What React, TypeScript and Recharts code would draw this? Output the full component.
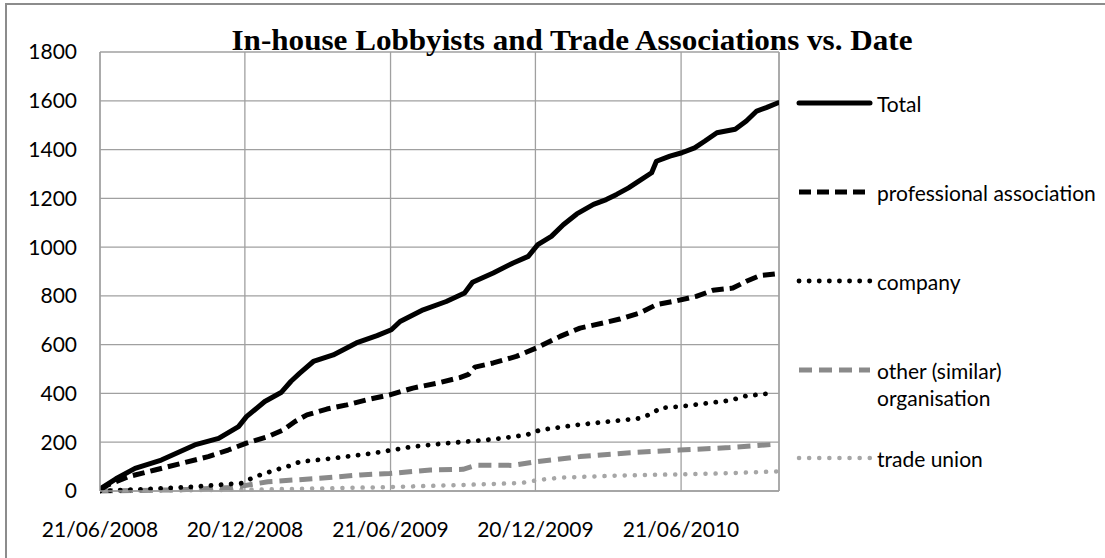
import React from 'react';
import { LineChart, Line, XAxis, YAxis, CartesianGrid, ReferenceLine, Legend } from 'recharts';

// x = days since 21/06/2008
const xTicks = [0, 182, 365, 547, 730];
const xTickLabels = ['21/06/2008', '20/12/2008', '21/06/2009', '20/12/2009', '21/06/2010'];
const yTicks = [0, 200, 400, 600, 800, 1000, 1200, 1400, 1600, 1800];
const lastDay = 853;

const totalPts = [
  [0, 8], [20, 50], [44, 93], [77, 127], [119, 189], [149, 216], [174, 264], [184, 305], [207, 367],
  [228, 405], [240, 450], [251, 483], [268, 531], [293, 558], [322, 607], [348, 637], [366, 661],
  [377, 695], [406, 743], [435, 777], [458, 812], [468, 856], [494, 894], [519, 935], [538, 962],
  [550, 1010], [567, 1044], [582, 1092], [599, 1136], [620, 1175], [636, 1195], [649, 1216],
  [664, 1243], [674, 1264], [693, 1305], [699, 1352], [716, 1373], [731, 1387], [747, 1407],
  [760, 1435], [775, 1469], [798, 1483], [812, 1517], [825, 1558], [837, 1572], [852, 1592],
];
const profPts = [
  [0, 5], [10, 25], [36, 59], [69, 86], [103, 114], [136, 141], [161, 168], [184, 196], [211, 223],
  [230, 250], [245, 285], [260, 312], [285, 336], [310, 353], [335, 374], [364, 394], [393, 422],
  [423, 442], [452, 465], [463, 478], [471, 508], [494, 525], [523, 552], [548, 586], [578, 634],
  [603, 668], [632, 689], [653, 705], [678, 730], [699, 764], [720, 777], [749, 798], [770, 823],
  [795, 832], [812, 860], [829, 883], [848, 890],
];
const companyPts = [
  [0, 0], [60, 8], [120, 18], [178, 32], [195, 59], [220, 86], [240, 105], [251, 120], [293, 134],
  [343, 155], [393, 182], [435, 196], [477, 207], [494, 212], [536, 230], [553, 250], [599, 271],
  [661, 292], [678, 298], [695, 319], [703, 340], [728, 346], [791, 371], [812, 390], [848, 402],
];
const otherPts = [
  [0, 0], [100, 5], [170, 15], [178, 20], [211, 38], [243, 45], [276, 52], [327, 66], [364, 72],
  [415, 86], [456, 89], [473, 106], [519, 105], [548, 120], [603, 141], [666, 157], [728, 168],
  [791, 178], [850, 192],
];
const unionPts = [
  [0, 0], [100, 3], [200, 6], [300, 12], [360, 16], [450, 24], [530, 33], [550, 45], [580, 55],
  [660, 64], [770, 71], [850, 80],
];

const toRows = (pts: number[][]) => pts.map(([day, v]) => ({ day, v }));

const SERIES = [
  { name: 'Total', pts: totalPts, stroke: '#000', width: 5, dash: undefined, cap: 'round' },
  { name: 'professional association', pts: profPts, stroke: '#000', width: 5, dash: '12 6', cap: 'butt' },
  { name: 'company', pts: companyPts, stroke: '#000', width: 4.8, dash: '0.1 10', cap: 'round' },
  { name: 'other (similar) organisation', pts: otherPts, stroke: '#8a8a8a', width: 5, dash: '13 7', cap: 'butt' },
  { name: 'trade union', pts: unionPts, stroke: '#a6a6a6', width: 4.5, dash: '0.1 10', cap: 'round' },
];

const FONT = 'Lato, sans-serif';
const GRID = '#a0a0a0';

const LEGEND_ROWS = [103, 192, 281, 370, 458];

const LegendBox = () => (
  <svg width={320} height={420} style={{ display: 'block' }}>
    {SERIES.map((s, i) => {
      const y = LEGEND_ROWS[i] - 80;
      const lines = s.name === 'other (similar) organisation' ? ['other (similar)', 'organisation'] : [s.name];
      return (
        <g key={s.name}>
          <line x1={4} x2={75} y1={y} y2={y} stroke={s.stroke} strokeWidth={s.width}
            strokeDasharray={s.dash} strokeLinecap={s.cap as any} />
          {lines.map((t, j) => (
            <text key={t} x={82} y={y + j * 27} dominantBaseline="central"
              fontFamily={FONT} fontSize={21} fill="#000">{t}</text>
          ))}
        </g>
      );
    })}
  </svg>
);

export default function App() {
  return (
    <div style={{ position: 'absolute', left: 0, top: 0, width: 1105, height: 558, overflow: 'hidden', background: '#fff' }}>
      <div style={{ position: 'absolute', left: 5, top: 3, width: 1200, height: 700, borderTop: '2px solid #8c8c8c', borderLeft: '2px solid #8c8c8c' }} />
      <div style={{ position: 'absolute', left: 0, top: 0 }}>
        <LineChart width={1105} height={558} margin={{ top: 52, right: 326, bottom: 0, left: 0 }}>
          <CartesianGrid stroke={GRID} strokeWidth={1.3} />
          <XAxis dataKey="day" type="number" domain={[0, lastDay]} ticks={xTicks} allowDataOverflow
            tickFormatter={(d: number) => xTickLabels[xTicks.indexOf(d)] ?? ''}
            height={67} tickSize={0} tickLine={false} tickMargin={31}
            axisLine={{ stroke: GRID, strokeWidth: 1.3 }}
            tick={{ fill: '#000', fontSize: 21, fontFamily: FONT }} />
          <YAxis type="number" domain={[0, 1800]} ticks={yTicks} width={100}
            tickSize={0} tickLine={false} tickMargin={23}
            axisLine={{ stroke: GRID, strokeWidth: 1.3 }}
            tick={{ fill: '#000', fontSize: 21, fontFamily: FONT }} />
          <ReferenceLine x={lastDay} stroke={GRID} strokeWidth={1.3} />
          {SERIES.slice().reverse().map((s) => (
            <Line key={s.name} data={toRows(s.pts)} dataKey="v" name={s.name} type="linear"
              stroke={s.stroke} strokeWidth={s.width} strokeDasharray={s.dash}
              strokeLinecap={s.cap as any} strokeLinejoin="round"
              dot={false} activeDot={false} isAnimationActive={false} />
          ))}
          <Legend layout="vertical" align="center" verticalAlign="middle"
            wrapperStyle={{ left: 795, top: 80, width: 320, height: 420 }}
            content={() => <LegendBox />} />
        </LineChart>
      </div>
      <svg width={1105} height={70} style={{ position: 'absolute', left: 0, top: 0 }}>
        <text x={572} y={50} textAnchor="middle" fontFamily="'Liberation Serif', serif" fontWeight="bold"
          fontSize={30} textLength={681} lengthAdjust="spacingAndGlyphs" fill="#000">
          In-house Lobbyists and Trade Associations vs. Date
        </text>
      </svg>
    </div>
  );
}
